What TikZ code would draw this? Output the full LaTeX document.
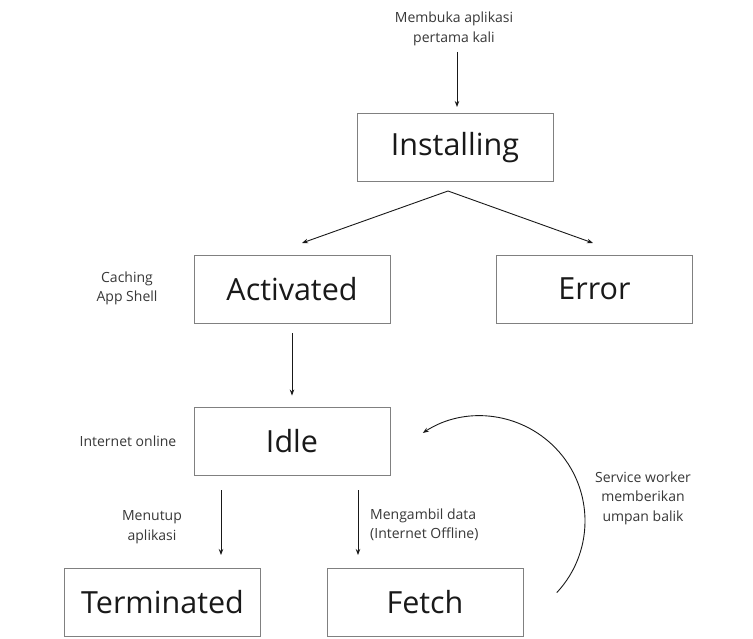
\documentclass[tikz,border=0pt]{standalone}
\usepackage{fontspec}
\setmainfont{Open Sans}
\usetikzlibrary{arrows.meta}
\begin{document}
\begin{tikzpicture}[x=1pt,y=-1pt,
  box/.style={draw=black!50, line width=0.9pt, minimum width=196pt, minimum height=68pt, inner sep=0pt, font=\fontsize{30.5}{34}\selectfont, text=black!90},
  lbl/.style={font=\fontsize{14}{19.5}\selectfont, text=black!78, align=center, inner sep=0pt},
  arr/.style={-{Stealth[length=6pt,width=4.5pt]}, line width=0.9pt, black!90}]
\fill[white] (0,0) rectangle (753,639);
\useasboundingbox (0,0) rectangle (753,639);
% boxes
\node[box] (inst) at (455,147.5) {Installing};
\node[box] (act) at (292,289) {Activated};
\node[box] (err) at (594.5,289) {Error};
\node[box] (idle) at (292,441) {Idle};
\node[box] (term) at (162.5,602) {Terminated};
\node[box] (fetch) at (425,602) {Fetch};
% labels
\node[lbl] (top) at (454,29) {Membuka aplikasi\\pertama kali};
\node[lbl] (cache) at (127,288.5) {Caching\\App Shell};
\node[lbl] (online) at (128,441) {Internet online};
\node[lbl] (close) at (152,527) {Menutup\\aplikasi};
\node[lbl, align=left, anchor=west] (getdata) at (370,525) {Mengambil data\\(Internet Offline)};
\node[lbl] (sw) at (643,498) {Service worker\\memberikan\\umpan balik};
% connectors
\coordinate (topA) at (457,52);
\coordinate (topB) at (457,107);
\draw[arr] (topA) -- (topB);
\coordinate (apex) at (448,191);
\coordinate (tipA) at (302,243);
\coordinate (tipE) at (593,243);
\draw[arr] (apex) -- (tipA);
\draw[arr] (apex) -- (tipE);
\draw[arr, shorten <=10pt, shorten >=11pt] (act.south) -- (idle.north);
\coordinate (tA) at (221,490);
\coordinate (tB) at (221,555);
\coordinate (fA) at (358,490);
\coordinate (fB) at (358,555);
\draw[arr] (tA) -- (tB);
\draw[arr] (fA) -- (fB);
\coordinate (arcS) at (556.8,592.6);
\draw[arr] (arcS) arc[start angle=43, end angle=-123, radius=105];
\end{tikzpicture}
\end{document}
